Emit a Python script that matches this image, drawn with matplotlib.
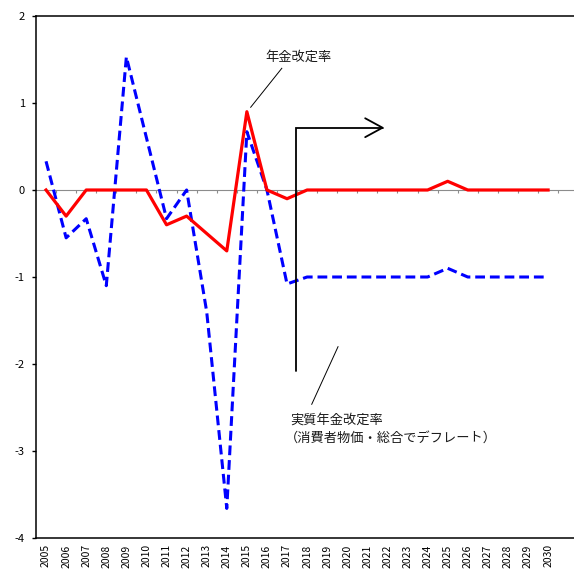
import matplotlib
matplotlib.use("Agg")
import matplotlib.pyplot as plt
import numpy as np

plt.rcParams['font.family'] = ['Noto Sans CJK JP', 'DejaVu Sans']
plt.rcParams['axes.unicode_minus'] = False

# data
years = list(range(2005, 2031))
nominal = [0, -0.3, 0, 0, 0, 0, -0.4, -0.3, -0.5, -0.7, 0.9, 0, -0.1,
           0, 0, 0, 0, 0, 0, 0, 0.1, 0, 0, 0, 0, 0]
real = [0.33, -0.55, -0.33, -1.1, 1.53, 0.6, -0.33, 0.0, -1.4, -3.66, 0.67, 0.0, -1.08,
        -1.0, -1.0, -1.0, -1.0, -1.0, -1.0, -1.0, -0.9, -1.0, -1.0, -1.0, -1.0, -1.0]
yticks = [2, 1, 0, -1, -2, -3, -4]

fig = plt.figure(figsize=(5.74, 5.69), dpi=100)
ax = fig.add_axes([36 / 574, 31 / 569, 538 / 574, 522 / 569])

x = np.array(years)
ax.set_xlim(2004.5, 2031.29)
ax.set_ylim(-4, 2)

# zero line with small category ticks
ax.axhline(0, color='#8c8c8c', lw=0.8, zorder=1)
ax.vlines(np.arange(2005.5, 2031.5, 1.0), -0.04, 0, color='#8c8c8c', lw=0.8, zorder=1)

ax.plot(x, real, color='#0000ff', lw=2.2, dashes=(3.2, 1.6), zorder=3)
ax.plot(x, nominal, color='#ff0000', lw=2.3, zorder=4)

# elbow arrow (up, then right)
ax.annotate('', xy=(2021.85, 0.716), xytext=(2017.43, -2.08),
            arrowprops=dict(arrowstyle='->,head_length=1.25,head_width=0.68',
                            connectionstyle='angle,angleA=90,angleB=0,rad=0',
                            color='black', lw=1.3, shrinkA=0, shrinkB=0,
                            joinstyle='miter'),
            zorder=5)

# labels with leader lines
ax.text(2015.91, 1.525, '年金改定率', fontsize=9.5, color='#1a1a1a', ha='left', va='center')
ax.plot([2016.74, 2015.19], [1.399, 0.951], color='black', lw=0.7)
ax.text(2017.15, -2.644, '実質年金改定率', fontsize=9.5, color='#1a1a1a', ha='left', va='center')
ax.text(2016.9, -2.851, '（消費者物価・総合でデフレート）', fontsize=9.5, color='#1a1a1a',
        ha='left', va='center')
ax.plot([2019.54, 2018.23], [-1.801, -2.463], color='black', lw=0.7)

ax.set_yticks(yticks)
ax.set_yticklabels([str(v) for v in yticks], fontsize=8)
ax.set_xticks(years)
ax.set_xticklabels([str(y) for y in years], rotation=90, fontsize=7.5, va='top')
ax.tick_params(axis='x', length=0, pad=4.5)
ax.tick_params(axis='y', direction='out', length=3, width=1, pad=5)

ax.spines['right'].set_visible(False)
for s in ['left', 'top', 'bottom']:
    ax.spines[s].set_linewidth(1.1)
    ax.spines[s].set_color('black')

fig.savefig('out.png', dpi=100)
